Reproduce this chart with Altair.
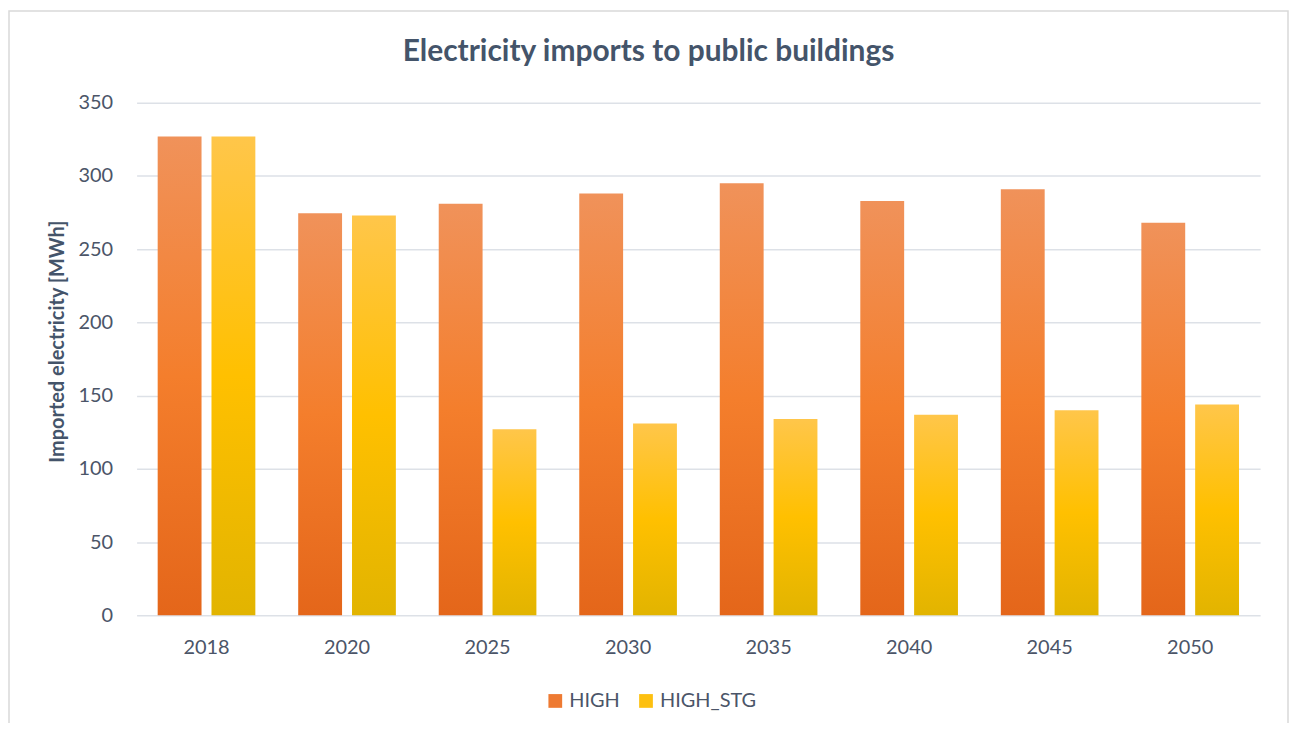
import altair as alt
import pandas as pd

years = ["2018", "2020", "2025", "2030", "2035", "2040", "2045", "2050"]
high = [327, 274.5, 281, 288, 295, 283, 291, 268]
high_stg = [327, 273, 127, 131, 134, 137, 140, 144]
series_names = ["HIGH", "HIGH_STG"]

rows = []
for y, a, b in zip(years, high, high_stg):
    rows.append({"year": y, "series": "HIGH", "value": a})
    rows.append({"year": y, "series": "HIGH_STG", "value": b})
df = pd.DataFrame(rows)

grad_high = {
    "gradient": "linear", "x1": 0, "y1": 0, "x2": 0, "y2": 1,
    "stops": [
        {"offset": 0, "color": "#F0925A"},
        {"offset": 0.5, "color": "#F47E2C"},
        {"offset": 1, "color": "#E4661A"},
    ],
}
grad_stg = {
    "gradient": "linear", "x1": 0, "y1": 0, "x2": 0, "y2": 1,
    "stops": [
        {"offset": 0, "color": "#FFC64A"},
        {"offset": 0.5, "color": "#FFC000"},
        {"offset": 1, "color": "#E2B400"},
    ],
}

title_color = "#44546A"
label_color = "#4B5568"
grid_color = "#DDE1E7"

x_enc = alt.X(
    "year:N",
    sort=years,
    title=None,
    scale=alt.Scale(paddingInner=0.305, paddingOuter=0.15),
    axis=alt.Axis(labelAngle=0, labelPadding=22, ticks=False, domain=False,
                  labelFontSize=20, labelColor=label_color, grid=False),
)
xoff_enc = alt.XOffset(
    "series:N",
    sort=series_names,
    scale=alt.Scale(domain=series_names, paddingInner=0.185, paddingOuter=0),
)
y_enc = alt.Y(
    "value:Q",
    title="Imported electricity [MWh]",
    scale=alt.Scale(domain=[0, 350], nice=False),
    axis=alt.Axis(values=[0, 50, 100, 150, 200, 250, 300, 350], ticks=False,
                  domain=False, labelPadding=24, labelFontSize=20,
                  labelColor=label_color, titleFontSize=20, titleFontWeight="bold",
                  titleColor=title_color, titlePadding=11, titleY=239,
                  gridColor=grid_color, gridWidth=1.5),
)

bars = alt.Chart(df).mark_bar().encode(
    x=x_enc,
    xOffset=xoff_enc,
    y=y_enc,
    fill=alt.condition(alt.datum.series == "HIGH", alt.value(grad_high), alt.value(grad_stg)),
)

legend_layer = alt.Chart(df).mark_bar(strokeWidth=0).encode(
    x=alt.X("year:N", sort=years),
    xOffset=alt.XOffset("series:N", sort=series_names),
    y=alt.datum(0),
    color=alt.Color(
        "series:N",
        scale=alt.Scale(domain=series_names, range=["#EE7A32", "#FDC010"]),
        legend=alt.Legend(orient="none", legendX=410, legendY=590,
                          direction="horizontal", title=None,
                          symbolType="square", symbolSize=190, labelFontSize=20,
                          labelColor=label_color, columnPadding=16,
                          symbolStrokeWidth=0),
    ),
)

border = alt.Chart(alt.Data(values=[{"a": 1}])).mark_rect(
    fill="transparent", stroke="#D9D9D9", strokeWidth=1.5
).encode(
    x=alt.value(-128), x2=alt.value(1155), y=alt.value(-92), y2=alt.value(720)
)

chart = alt.layer(border, bars, legend_layer).properties(
    width=1127,
    height=514,
    padding={"left": 129, "top": 94, "right": 30, "bottom": 107},
    autosize=alt.AutoSizeParams(type="none"),
    title=alt.TitleParams(
        "Electricity imports to public buildings",
        fontSize=30, fontWeight="bold", color=title_color, anchor="middle",
        offset=-57, frame="bounds",
    ),
).configure(font="Lato").configure_view(stroke=None)

chart.save("out.html", embed_options={"renderer": "svg", "actions": False})
